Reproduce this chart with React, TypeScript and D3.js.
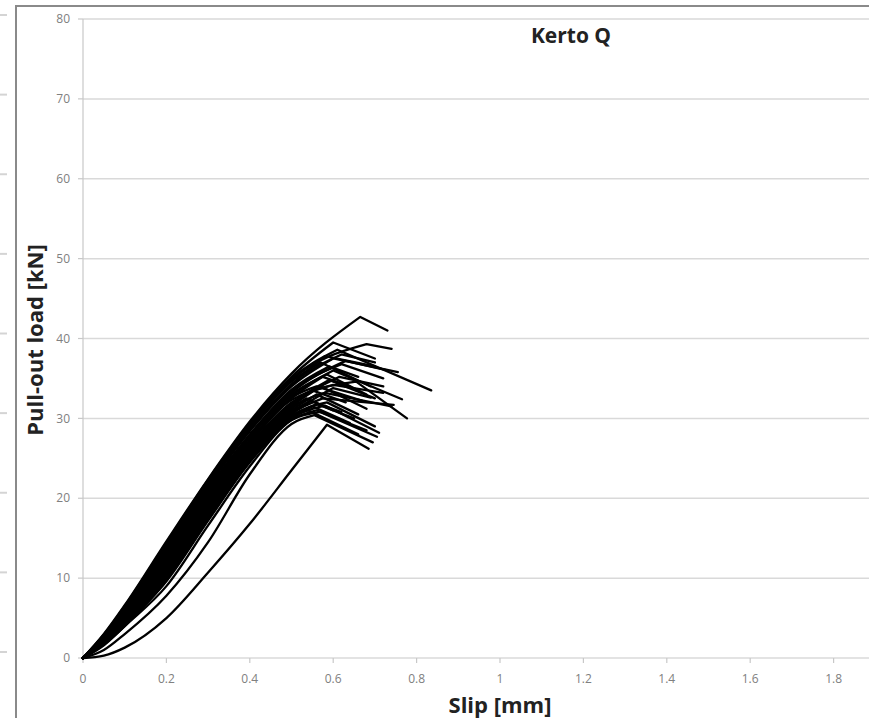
import React from "react";
import * as d3 from "d3";

const W = 869;
const H = 718;

// slip values [mm] at which the rising branch of each specimen is read
const riseSlips = [0, 0.05, 0.1, 0.2, 0.3, 0.4, 0.5];

// pull-out load [kN] of each specimen at riseSlips
const riseLoads = [
  [0, 3.0, 6.6, 14.6, 22.4, 29.6, 35.6],
  [0, 2.8, 6.3, 14.1, 22.0, 29.0, 34.8],
  [0, 2.9, 6.4, 14.3, 22.2, 29.2, 35.0],
  [0, 2.7, 6.0, 13.7, 21.5, 28.4, 34.0],
  [0, 2.6, 5.8, 13.3, 21.0, 27.8, 33.4],
  [0, 2.5, 5.6, 12.9, 20.6, 27.3, 32.8],
  [0, 2.4, 5.4, 12.5, 20.2, 26.9, 32.3],
  [0, 2.3, 5.2, 12.1, 19.8, 26.5, 31.8],
  [0, 2.8, 6.2, 13.9, 21.7, 28.6, 34.2],
  [0, 2.2, 5.0, 11.7, 19.4, 26.2, 31.5],
  [0, 2.1, 4.8, 11.3, 19.0, 25.8, 31.0],
  [0, 2.0, 4.6, 10.9, 18.6, 25.4, 30.6],
  [0, 1.9, 4.4, 10.4, 18.0, 25.0, 30.2],
  [0, 1.6, 4.0, 9.0, 16.6, 24.0, 29.8],
  [0, 1.0, 3.0, 7.8, 14.5, 23.0, 29.3],
  [0, 0.3, 1.3, 5.0, 10.7, 16.8, 23.5],
  [0, 2.6, 5.9, 13.5, 21.2, 28.0, 33.6],
  [0, 2.4, 5.5, 12.7, 20.4, 27.1, 32.5],
  [0, 2.2, 5.1, 11.9, 19.6, 26.4, 31.6],
  [0, 2.0, 4.7, 11.1, 18.8, 25.6, 30.8],
  [0, 2.7, 6.1, 13.8, 21.7, 28.6, 34.3],
  [0, 2.5, 5.7, 13.1, 20.8, 27.6, 33.0],
  [0, 2.1, 4.9, 11.5, 19.2, 26.0, 31.2],
  [0, 1.8, 4.2, 10.1, 17.6, 24.8, 30.0],
  [0, 2.9, 6.5, 14.4, 22.3, 29.4, 35.2],
  [0, 2.8, 6.2, 14.0, 22.0, 28.9, 34.6],
  [0, 2.3, 5.3, 12.3, 20.0, 26.7, 32.0],
  [0, 2.1, 4.9, 11.6, 19.3, 26.1, 31.4],
  [0, 1.9, 4.3, 10.6, 18.3, 25.2, 30.4],
  [0, 1.7, 4.1, 9.6, 17.2, 24.5, 29.8],
  [0, 2.6, 5.8, 13.2, 20.9, 27.7, 33.2],
  [0, 2.4, 5.5, 12.8, 20.5, 27.2, 32.6],
  [0, 1.8, 4.3, 10.2, 17.8, 24.9, 30.3],
  [0, 2.0, 4.5, 10.7, 18.4, 25.3, 30.5],
  [0, 1.7, 4.0, 9.8, 17.4, 24.6, 30.0],
  [0, 2.2, 5.0, 11.8, 19.5, 26.3, 31.6],
];

// maximum load point of each specimen
const peakSlips = [0.665, 0.68, 0.61, 0.6, 0.62, 0.6, 0.655, 0.59, 0.58, 0.57, 0.56, 0.575, 0.56, 0.56, 0.555, 0.585, 0.59, 0.575, 0.55, 0.545, 0.62, 0.585, 0.535, 0.55, 0.6, 0.57, 0.6, 0.58, 0.54, 0.57, 0.63, 0.56, 0.585, 0.6, 0.58, 0.615];
const peakLoads = [42.7, 39.3, 38.6, 37.5, 36.8, 36.0, 34.6, 34.8, 37.8, 34.0, 33.0, 32.5, 31.8, 31.0, 30.4, 29.2, 36.5, 35.2, 33.5, 32.2, 38.0, 35.5, 32.5, 31.5, 39.5, 37.0, 34.2, 33.2, 31.0, 30.8, 37.2, 34.0, 32.0, 33.8, 31.6, 35.2];

// last recorded point of each specimen
const endSlips = [0.73, 0.74, 0.835, 0.755, 0.72, 0.765, 0.777, 0.7, 0.7, 0.68, 0.66, 0.745, 0.65, 0.705, 0.695, 0.685, 0.66, 0.64, 0.63, 0.62, 0.7, 0.68, 0.6, 0.64, 0.7, 0.69, 0.72, 0.74, 0.66, 0.68, 0.73, 0.67, 0.7, 0.69, 0.71, 0.72];
const endLoads = [41.0, 38.7, 33.5, 35.8, 35.0, 32.4, 30.0, 32.5, 36.5, 31.2, 30.5, 31.7, 30.0, 27.7, 27.0, 26.2, 35.2, 34.0, 32.0, 30.8, 37.0, 33.0, 31.0, 29.4, 37.5, 34.0, 33.2, 31.5, 28.0, 28.5, 36.0, 32.2, 29.0, 32.6, 28.2, 34.0];

const yTicks = [0, 10, 20, 30, 40, 50, 60, 70, 80];
const xTicks = [0, 0.2, 0.4, 0.6, 0.8, 1, 1.2, 1.4, 1.6, 1.8];
const xTickLabels = ["0", "0.2", "0.4", "0.6", "0.8", "1", "1.2", "1.4", "1.6", "1.8"];

const font = "'Open Sans', 'DejaVu Sans', sans-serif";

export default function App() {
  const x = d3.scaleLinear().domain([0, 2]).range([83, 917]);
  const y = d3.scaleLinear().domain([0, 80]).range([658, 19]);
  // gridline stubs of the neighbouring chart, cut off at the left edge
  const yNeighbour = d3.scaleLinear().domain([0, 80]).range([652, 15]);

  const rise = d3
    .line<[number, number]>()
    .x((d) => x(d[0]))
    .y((d) => y(d[1]))
    .curve(d3.curveMonotoneX);

  const paths = riseLoads.map((loads, i) => {
    const pts: [number, number][] = riseSlips.map((s, j) => [s, loads[j]]);
    pts.push([peakSlips[i], peakLoads[i]]);
    return `${rise(pts)}L${x(endSlips[i])},${y(endLoads[i])}`;
  });

  return (
    <svg
      width={W}
      height={H}
      style={{ position: "absolute", left: 0, top: 0, background: "#fff" }}
    >
      <rect width={W} height={H} fill="#fff" />

      {yTicks.map((t) => (
        <line key={`n${t}`} x1={0} x2={7} y1={yNeighbour(t)} y2={yNeighbour(t)} stroke="#d4d4d4" strokeWidth={2} />
      ))}

      <line x1={16} x2={16} y1={5} y2={H} stroke="#8a8a8a" strokeWidth={2} />
      <line x1={16} x2={W} y1={6} y2={6} stroke="#8a8a8a" strokeWidth={2} />

      {yTicks.map((t) => (
        <g key={`y${t}`}>
          {t > 0 && <line x1={x(0)} x2={W} y1={y(t)} y2={y(t)} stroke="#d9d9d9" strokeWidth={1.5} />}
          <line x1={x(0) - 5} x2={x(0)} y1={y(t)} y2={y(t)} stroke="#c8c8c8" strokeWidth={1.2} />
          <text x={70} y={y(t)} dy="0.35em" textAnchor="end" fontFamily={font} fontSize={12} fill="#808080">
            {t}
          </text>
        </g>
      ))}

      <line x1={x(0)} x2={x(0)} y1={y(80)} y2={y(0)} stroke="#c8c8c8" strokeWidth={1.2} />
      <line x1={x(0)} x2={W} y1={y(0)} y2={y(0)} stroke="#c8c8c8" strokeWidth={1.2} />

      {xTicks.map((t, i) => (
        <g key={`x${t}`}>
          <line x1={x(t)} x2={x(t)} y1={y(0)} y2={y(0) + 5} stroke="#c8c8c8" strokeWidth={1.2} />
          <text x={x(t)} y={683} textAnchor="middle" fontFamily={font} fontSize={12} fill="#808080">
            {xTickLabels[i]}
          </text>
        </g>
      ))}

      {paths.map((d, i) => (
        <path key={i} d={d} fill="none" stroke="#000" strokeWidth={2.3} strokeLinejoin="round" strokeLinecap="round" />
      ))}

      <text x={571} y={43} textAnchor="middle" fontFamily={font} fontWeight={700} fontSize={21} fill="#222">
        Kerto Q
      </text>
      <text x={500} y={713} textAnchor="middle" fontFamily={font} fontWeight={700} fontSize={22} fill="#222">
        Slip [mm]
      </text>
      <text
        transform="translate(43,340) rotate(-90)"
        textAnchor="middle"
        fontFamily={font}
        fontWeight={700}
        fontSize={22}
        fill="#222"
      >
        Pull-out load [kN]
      </text>
    </svg>
  );
}
